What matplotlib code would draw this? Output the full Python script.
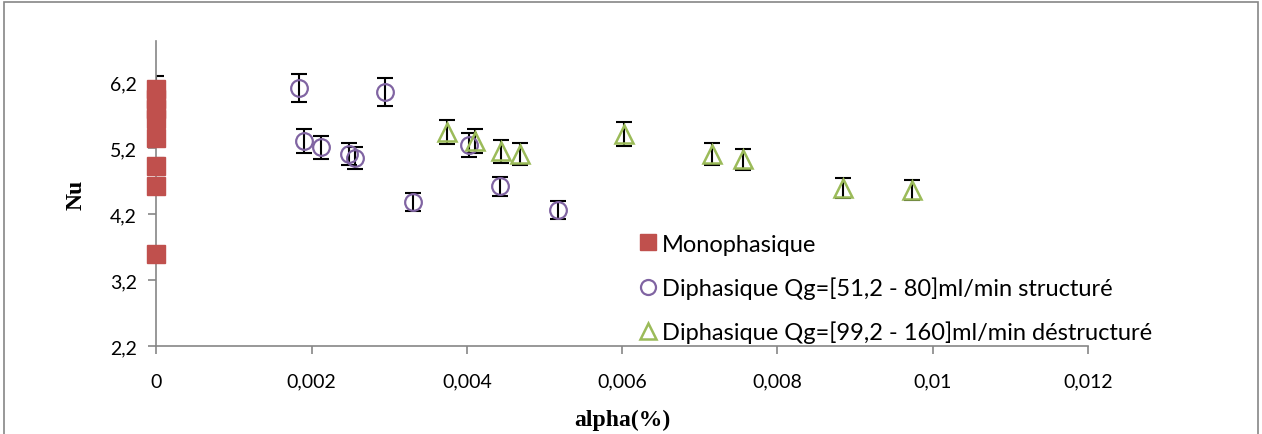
import matplotlib
matplotlib.use("Agg")
import matplotlib.pyplot as plt
from matplotlib.ticker import FuncFormatter
from matplotlib.patches import Rectangle

# Monophasique (alpha = 0)
mono_alpha = [0, 0, 0, 0, 0, 0, 0, 0]
mono_nu = [6.09, 5.94, 5.79, 5.64, 5.35, 4.93, 4.63, 3.59]
mono_err = [0.2, 0.15, 0.15, 0.15, 0.12, 0.12, 0.12, 0.1]

# Diphasique structure
struct_alpha = [0.00183, 0.00190, 0.00212, 0.00248, 0.00256, 0.00294, 0.00331, 0.00403, 0.00443, 0.00517]
struct_nu = [6.11, 5.31, 5.21, 5.11, 5.05, 6.05, 4.38, 5.25, 4.62, 4.26]
struct_err = [0.21, 0.18, 0.18, 0.17, 0.16, 0.21, 0.14, 0.18, 0.15, 0.14]

# Diphasique destructure
destr_alpha = [0.00374, 0.00410, 0.00444, 0.00469, 0.00603, 0.00716, 0.00756, 0.00884, 0.00973]
destr_nu = [5.45, 5.31, 5.15, 5.11, 5.41, 5.11, 5.03, 4.59, 4.56]
destr_err = [0.18, 0.18, 0.17, 0.17, 0.18, 0.17, 0.16, 0.15, 0.15]

labels = ["Monophasique",
          "Diphasique Qg=[51,2 - 80]ml/min structuré",
          "Diphasique Qg=[99,2 - 160]ml/min déstructuré"]

fig = plt.figure(figsize=(12.62, 4.35), dpi=100)
ax = fig.add_axes([0.124, 0.202, 0.738, 0.701])

ekw = dict(fmt="none", ecolor="black", elinewidth=1.5, capsize=6, capthick=1.5, zorder=2)
ax.errorbar(mono_alpha, mono_nu, yerr=mono_err, **ekw)
ax.errorbar(struct_alpha, struct_nu, yerr=struct_err, **ekw)
ax.errorbar(destr_alpha, destr_nu, yerr=destr_err, **ekw)

ax.plot(mono_alpha, mono_nu, "s", ms=12.5, color="#C0504D", mec="#C0504D", ls="none",
        label=labels[0], zorder=3, clip_on=False)
ax.plot(struct_alpha, struct_nu, "o", ms=12, mfc="none", mec="#8064A2", mew=1.6, ls="none",
        label=labels[1], zorder=3)
ax.plot(destr_alpha, destr_nu, "^", ms=13, mfc="none", mec="#9BBB59", mew=1.8, ls="none",
        label=labels[2], zorder=3)

ax.set_xlim(0, 0.012)
ax.set_ylim(2.2, 6.82)
ax.set_xticks([0, 0.002, 0.004, 0.006, 0.008, 0.01, 0.012])
ax.set_yticks([2.2, 3.2, 4.2, 5.2, 6.2])
ax.xaxis.set_major_formatter(FuncFormatter(lambda v, p: ("%g" % round(v, 4)).replace(".", ",")))
ax.yaxis.set_major_formatter(FuncFormatter(lambda v, p: ("%.1f" % v).replace(".", ",")))

for s in ["top", "right"]:
    ax.spines[s].set_visible(False)
for s in ["left", "bottom"]:
    ax.spines[s].set_color("#868686")
    ax.spines[s].set_linewidth(1.2)
ax.tick_params(axis="both", colors="#868686", length=6, width=1.2, labelcolor="black",
               labelsize=14)
ax.tick_params(axis="x", pad=13)
ax.tick_params(axis="y", pad=8)
for t in ax.get_xticklabels() + ax.get_yticklabels():
    t.set_fontfamily("Lato")

ax.set_xlabel("alpha(%)", fontfamily="Liberation Serif", fontweight="bold", fontsize=17, labelpad=14)
ax.set_ylabel("Nu", fontfamily="Liberation Serif", fontweight="bold", fontsize=17, labelpad=17)

ax.legend(loc="upper left", bbox_to_anchor=(0.505, 0.40), frameon=False,
          prop={"family": "Lato", "size": 17}, handletextpad=0.1,
          handlelength=1.0, labelspacing=0.92, borderaxespad=0, markerscale=0.9)

fig.patches.append(Rectangle((0.003, -0.01), 0.994, 1.003, transform=fig.transFigure,
                             fill=False, edgecolor="#868686", linewidth=1.2))

fig.savefig("out.png", dpi=100)
